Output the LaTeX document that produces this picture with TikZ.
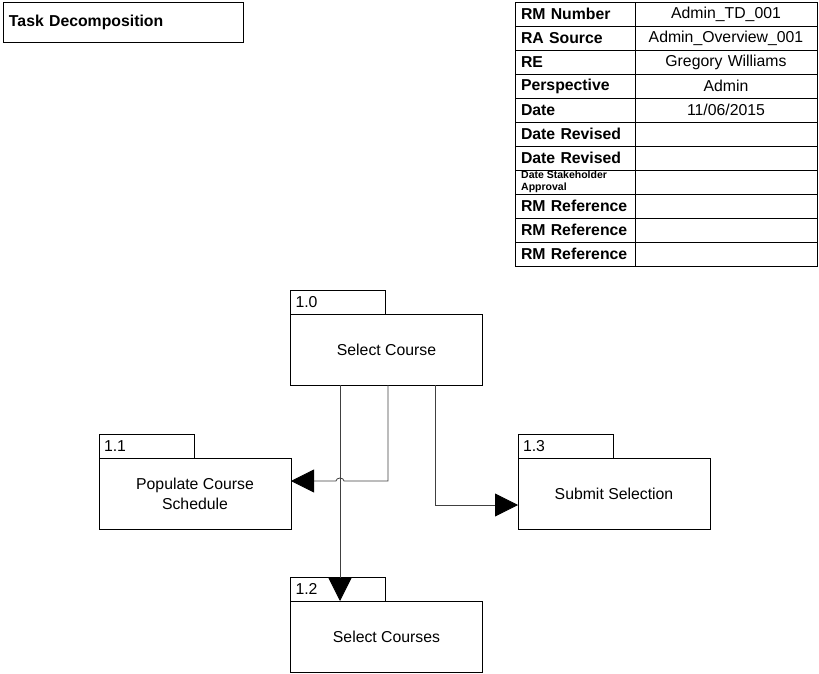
\documentclass[tikz,border=0pt]{standalone}
\usepackage{fontspec}
\setmainfont{Liberation Sans}
\usetikzlibrary{arrows.meta}

\begin{document}
\begin{tikzpicture}[x=1pt,y=-1pt]
\tikzstyle{lien}=[-{Triangle[length=23pt,width=23pt,black]},line width=0.8pt,draw=black!75]
\tikzset{tache/.style={draw,line width=0.8pt,minimum width=192,minimum height=71,inner sep=0pt,outer sep=0pt,align=center,font=\fontsize{15.8}{20}\selectfont},
onglet/.style={draw,line width=0.8pt,minimum width=95,minimum height=24,inner xsep=5pt,inner ysep=0pt,outer sep=0pt,text width=85,align=left,anchor=south west,font=\fontsize{15.8}{19}\selectfont},
cle/.style={draw,line width=0.8pt,minimum width=120,minimum height=24,inner xsep=6pt,inner ysep=0pt,outer sep=0pt,text width=108,align=left,font=\fontsize{15.8}{19}\selectfont\bfseries},
valeur/.style={draw,line width=0.8pt,minimum width=182,minimum height=24,inner xsep=3pt,inner ysep=0pt,outer sep=0pt,text width=176,align=center,font=\fontsize{15.8}{19}\selectfont}}
\useasboundingbox (0,0) rectangle (819,674);

\node[draw,line width=0.8pt,minimum width=240,minimum height=40,inner xsep=6pt,text width=228,align=left,font=\fontsize{15.8}{19}\selectfont\bfseries] (titre) at (123,22) {Task Decomposition};

\foreach \c/\v [count=\i] in {RM Number/Admin\_TD\_001, RA Source/Admin\_Overview\_001, RE/Gregory Williams, Perspective/Admin, Date/{11/06/2015}, Date Revised/{}, Date Revised/{}, {}/{}, RM Reference/{}, RM Reference/{}, RM Reference/{}}
{
\node[cle] (k\i) at (575,{14+24*(\i-1)}) {\c};
\node[valeur] (v\i) at (726,{14+24*(\i-1)}) {\v};
}
\node[inner sep=0pt,anchor=west,align=left,font=\fontsize{10.5}{11.5}\selectfont\bfseries] (k8txt) at ([xshift=6]k8.west) {Date Stakeholder\\Approval};

\node[tache] (sel) at (386.5,349.5) {Select Course};
\node[tache] (pop) at (195,493.5) {Populate Course\\Schedule};
\node[tache] (sub) at (614,493.5) {Submit Selection};
\node[tache] (crs) at (386.5,636.5) {Select Courses};

\node[onglet] (o0) at (sel.north west) {1.0};
\node[onglet] (o1) at (pop.north west) {1.1};
\node[onglet] (o3) at (sub.north west) {1.3};
\node[onglet] (o2) at (crs.north west) {1.2};

\coordinate (saut) at (340,481);
\draw[lien] ([xshift=1.5]sel.south) |- ([xshift=4]saut) arc[start angle=0,end angle=180,x radius=4pt,y radius=3pt] -- ([yshift=12.5]pop.east);
\draw[lien] ([xshift=-46.5]sel.south) -- ([xshift=-46.5]crs.north);
\draw[lien] ([xshift=48.5]sel.south) |- ([yshift=-11.5]sub.west);

\end{tikzpicture}
\end{document}
